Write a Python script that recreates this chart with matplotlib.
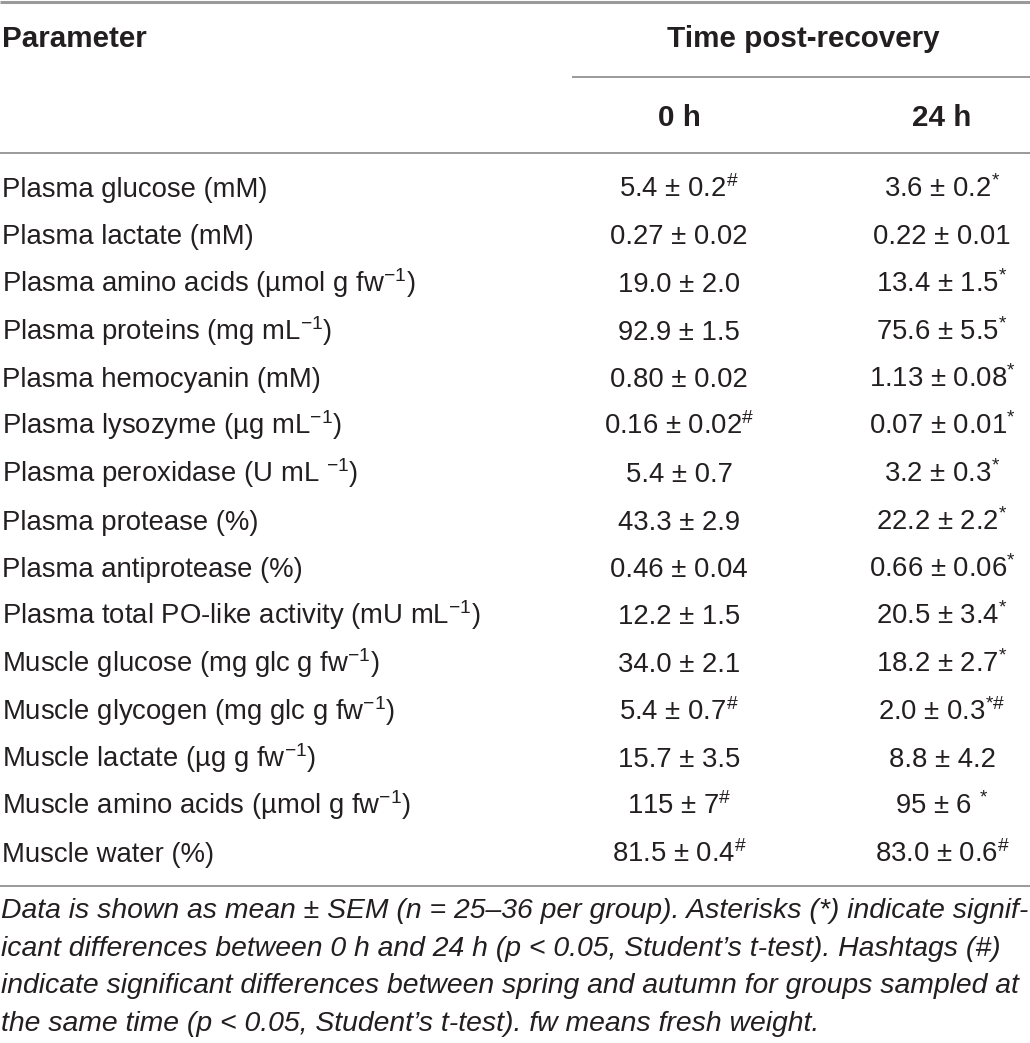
import matplotlib
matplotlib.use("Agg")
import matplotlib.pyplot as plt
from matplotlib import font_manager as fm

# ---------------- data ----------------
parameters = [
    "Plasma glucose (mM)",
    "Plasma lactate (mM)",
    "Plasma amino acids (µmol g fw$^{-1}$)",
    "Plasma proteins (mg mL$^{-1}$)",
    "Plasma hemocyanin (mM)",
    "Plasma lysozyme (µg mL$^{-1}$)",
    "Plasma peroxidase (U mL $^{-1}$)",
    "Plasma protease (%)",
    "Plasma antiprotease (%)",
    "Plasma total PO-like activity (mU mL$^{-1}$)",
    "Muscle glucose (mg glc g fw$^{-1}$)",
    "Muscle glycogen (mg glc g fw$^{-1}$)",
    "Muscle lactate (µg g fw$^{-1}$)",
    "Muscle amino acids (µmol g fw$^{-1}$)",
    "Muscle water (%)",
]
mean_0h = ["5.4", "0.27", "19.0", "92.9", "0.80", "0.16", "5.4", "43.3", "0.46", "12.2", "34.0", "5.4", "15.7", "115", "81.5"]
sem_0h = ["0.2", "0.02", "2.0", "1.5", "0.02", "0.02", "0.7", "2.9", "0.04", "1.5", "2.1", "0.7", "3.5", "7", "0.4"]
sig_0h = ["#", "", "", "", "", "#", "", "", "", "", "", "#", "", "#", "#"]
mean_24h = ["3.6", "0.22", "13.4", "75.6", "1.13", "0.07", "3.2", "22.2", "0.66", "20.5", "18.2", "2.0", "8.8", "95", "83.0"]
sem_24h = ["0.2", "0.01", "1.5", "5.5", "0.08", "0.01", "0.3", "2.2", "0.06", "3.4", "2.7", "0.3", "4.2", "6", "0.6"]
sig_24h = ["*", "", "*", "*", "*", "*", "*", "*", "*", "*", "*", "*#", "", " *", "#"]

header_param = "Parameter"
header_time = "Time post-recovery"
col_labels = ["0 h", "24 h"]
footnote = [
    "Data is shown as mean ± SEM (n = 25–36 per group). Asterisks (*) indicate signif-",
    "icant differences between 0 h and 24 h (p < 0.05, Student’s t-test). Hashtags (#)",
    "indicate significant differences between spring and autumn for groups sampled at",
    "the same time (p < 0.05, Student’s t-test). fw means fresh weight.",
]

# ---------------- style ----------------
names = {f.name for f in fm.fontManager.ttflist}
base = "Liberation Sans"
narrow = "Liberation Sans Narrow" if "Liberation Sans Narrow" in names else base

plt.rcParams["font.family"] = [base, "DejaVu Sans"]
plt.rcParams["mathtext.fontset"] = "custom"
plt.rcParams["mathtext.rm"] = base
plt.rcParams["mathtext.it"] = base + ":italic"
plt.rcParams["mathtext.bf"] = base + ":bold"
plt.rcParams["mathtext.default"] = "regular"

W, H = 1030, 1043
fig = plt.figure(figsize=(W / 100, H / 100), dpi=100)
ax = fig.add_axes([0, 0, 1, 1])
ax.set_xlim(0, W)
ax.set_ylim(H, 0)
ax.axis("off")

txt = "#231f20"
rule = "#9a9a9a"
fs = 19.8

def sup(s):
    if not s:
        return ""
    lead = " " if s.startswith(" ") else ""
    body = s.strip().replace("#", r"\#")
    return lead + "$^{" + body + "}$"

# rules
ax.plot([0, W], [2, 2], color=rule, lw=2.2, solid_capstyle="butt")
ax.plot([572, W], [77, 77], color=rule, lw=1.4, solid_capstyle="butt")
ax.plot([0, W], [153, 153], color=rule, lw=1.4, solid_capstyle="butt")
ax.plot([0, W], [886, 886], color=rule, lw=1.4, solid_capstyle="butt")

# headers
hfont = dict(family=[narrow, "DejaVu Sans"], weight="bold", fontsize=21.3, color=txt, va="baseline")
ax.text(2, 47, header_param, ha="left", **hfont)
ax.text(803, 47, header_time, ha="center", **hfont)
x0, x24 = 679, 942
ax.text(x0, 126, col_labels[0], ha="center", **hfont)
ax.text(x24, 126, col_labels[1], ha="center", **hfont)

# body rows
y0, dy = 197, 47.5
for i, p in enumerate(parameters):
    y = y0 + dy * i
    ax.text(2, y, p, ha="left", va="baseline", fontsize=fs, color=txt)
    ax.text(x0, y, f"{mean_0h[i]} ± {sem_0h[i]}" + sup(sig_0h[i]),
            ha="center", va="baseline", fontsize=fs, color=txt)
    ax.text(x24, y, f"{mean_24h[i]} ± {sem_24h[i]}" + sup(sig_24h[i]),
            ha="center", va="baseline", fontsize=fs, color=txt)

# footnote: size chosen so the longest justified line fits the table width
fy0, fdy = 918, 37.7
fnt = dict(family=[narrow, "DejaVu Sans"], style="italic", color=txt, ha="left", va="baseline")
renderer = fig.canvas.get_renderer()
probe_fs = 20.0
widths = []
for line in footnote[:3]:
    t = ax.text(0, 0, line, fontsize=probe_fs, **fnt)
    widths.append(t.get_window_extent(renderer).width)
    t.remove()
foot_fs = probe_fs * 1024 / max(widths)
for j, line in enumerate(footnote):
    ax.text(1, fy0 + fdy * j, line, fontsize=foot_fs, **fnt)

fig.savefig("out.png", dpi=100)
